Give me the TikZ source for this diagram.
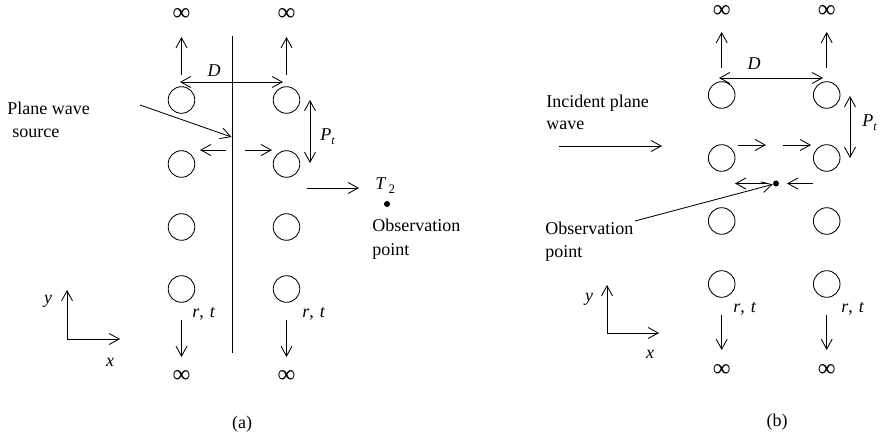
\documentclass[tikz,border=0pt]{standalone}
\usepackage{fontspec}
\setmainfont{Liberation Serif}
\usetikzlibrary{arrows.meta}
\begin{document}
\begin{tikzpicture}[x=1pt,y=-1pt,line width=0.85pt,
  font=\fontsize{18}{23}\selectfont,
  cyl/.style={circle,draw,minimum size=26.6pt,inner sep=0pt},
  arr/.style={-{Straight Barb[length=10pt,width=11pt]}},
  darr/.style={{Straight Barb[length=10pt,width=11pt]}-{Straight Barb[length=10pt,width=11pt]}},
  txt/.style={inner sep=0pt,anchor=base west},
  lbl/.style={inner sep=0pt,anchor=base},
  inf/.style={inner sep=0pt,font=\fontsize{25}{25}\selectfont},
  obsdot/.style={circle,fill,inner sep=0pt,minimum size=6pt}
]
\useasboundingbox (0,0) rectangle (880,438);

% ===================== (a) =====================
\foreach \r/\y in {1/100,2/164,3/227,4/289}{
  \node[cyl] (a\r1) at (181.5,\y) {};
  \node[cyl] (a\r2) at (286.5,\y) {};
}
\node[inf] (ainf1) at (181.5,15) {∞};
\node[inf] (ainf2) at (286.5,15) {∞};
\node[inf] (ainf3) at (181.5,376) {∞};
\node[inf] (ainf4) at (286.5,376) {∞};

% vertical line
\coordinate (avt) at (232,36);
\coordinate (avb) at (232,353);
\draw (avt) -- (avb);

% up arrows
\coordinate (au1s) at (181.5,75); \coordinate (au1e) at (181.5,37);
\coordinate (au2s) at (286.5,75); \coordinate (au2e) at (286.5,37);
\draw[arr] (au1s) -- (au1e);
\draw[arr] (au2s) -- (au2e);

% D
\coordinate (aDl) at (180,82); \coordinate (aDr) at (283,82);
\draw[darr] (aDl) -- (aDr);
\node[lbl] (aD) at (214,77) {\textit{D}};

% Plane wave source
\node[txt] (apw1) at (7,115) {Plane wave};
\node[txt] (apw2) at (12,138) {source};
\coordinate (apws) at (140,105); \coordinate (apwe) at (231.5,137);
\draw[arr] (apws) -- (apwe);

% small arrows
\coordinate (asl1) at (226,150); \coordinate (asl2) at (200,150);
\coordinate (asr1) at (245,150); \coordinate (asr2) at (272,150);
\draw[arr] (asl1) -- (asl2);
\draw[arr] (asr1) -- (asr2);

% P_t
\coordinate (aPt) at (310,100); \coordinate (aPb) at (310,163);
\draw[darr] (aPt) -- (aPb);
\node[txt] (aP) at (320,141) {\textit{P}\raisebox{-4pt}{\fontsize{12}{12}\selectfont\textit{t}}};

% T2
\coordinate (aTs) at (307,188); \coordinate (aTe) at (359,188);
\draw[arr] (aTs) -- (aTe);
\node[txt] (aT) at (375,190) {\textit{T}\hspace{2pt}\raisebox{-4pt}{\fontsize{13}{13}\selectfont 2}};
\node[obsdot] (adot) at (387,204) {};
\node[txt] (aob1) at (372,232) {Observation};
\node[txt] (aob2) at (372,255) {point};

% r, t
\node[txt] (art1) at (192,317) {\textit{r},\hspace{6pt}\textit{t}};
\node[txt] (art2) at (302,317) {\textit{r},\hspace{6pt}\textit{t}};

% down arrows
\coordinate (ad1s) at (181.5,320); \coordinate (ad1e) at (181.5,357);
\coordinate (ad2s) at (286.5,320); \coordinate (ad2e) at (286.5,357);
\draw[arr] (ad1s) -- (ad1e);
\draw[arr] (ad2s) -- (ad2e);

% axes
\coordinate (aax) at (67,339);
\coordinate (aay) at (67,290);
\coordinate (aaxx) at (120,339);
\draw[arr] (aax) -- (aay);
\draw[arr] (aax) -- (aaxx);
\node[lbl] (ay) at (48,303) {\textit{y}};
\node[lbl] (ax) at (110,366) {\textit{x}};

\node[lbl] (acap) at (242,428) {(a)};

% ===================== (b) =====================
\foreach \r/\y in {1/95,2/158,3/221,4/284}{
  \node[cyl] (b\r1) at (721.7,\y) {};
  \node[cyl] (b\r2) at (826.7,\y) {};
}
\node[inf] (binf1) at (721.7,12) {∞};
\node[inf] (binf2) at (826.7,12) {∞};
\node[inf] (binf3) at (721.7,370) {∞};
\node[inf] (binf4) at (826.7,370) {∞};

% up arrows
\coordinate (bu1s) at (721.7,68); \coordinate (bu1e) at (721.7,32);
\coordinate (bu2s) at (826.7,68); \coordinate (bu2e) at (826.7,32);
\draw[arr] (bu1s) -- (bu1e);
\draw[arr] (bu2s) -- (bu2e);

% D
\coordinate (bDl) at (719,78); \coordinate (bDr) at (823,78);
\draw[darr] (bDl) -- (bDr);
\node[lbl] (bD) at (754,70) {\textit{D}};

% P_t
\coordinate (bPt) at (850,96); \coordinate (bPb) at (850,158);
\draw[darr] (bPt) -- (bPb);
\node[txt] (bP) at (862,127) {\textit{P}\raisebox{-4pt}{\fontsize{12}{12}\selectfont\textit{t}}};

% incident plane wave
\node[txt] (bip1) at (546,108) {Incident plane};
\node[txt] (bip2) at (546,130) {wave};
\coordinate (bis) at (559,146); \coordinate (bie) at (662,146);
\draw[arr] (bis) -- (bie);

% small arrows row 2
\coordinate (bs1s) at (738,145); \coordinate (bs1e) at (766,145);
\coordinate (bs2s) at (783,145); \coordinate (bs2e) at (811,145);
\draw[arr] (bs1s) -- (bs1e);
\draw[arr] (bs2s) -- (bs2e);

% observation point
\node[obsdot] (bdot) at (776,183.5) {};
\coordinate (bls) at (767,183.5); \coordinate (ble) at (735,183.5);
\draw[arr] (bls) -- (ble);
\coordinate (brs) at (813,183.5); \coordinate (bre) at (787,183.5);
\draw[arr] (brs) -- (bre);
\coordinate (bos) at (635,221);
\draw[arr] (bos) -- (bdot);
\node[txt] (bob1) at (545,235) {Observation};
\node[txt] (bob2) at (545,258) {point};

% r, t
\node[txt] (brt1) at (733,312) {\textit{r},\hspace{6pt}\textit{t}};
\node[txt] (brt2) at (841,312) {\textit{r},\hspace{6pt}\textit{t}};

% down arrows
\coordinate (bd1s) at (721.7,315); \coordinate (bd1e) at (721.7,350);
\coordinate (bd2s) at (826.7,315); \coordinate (bd2e) at (826.7,350);
\draw[arr] (bd1s) -- (bd1e);
\draw[arr] (bd2s) -- (bd2e);

% axes
\coordinate (bax) at (607,333);
\coordinate (bay) at (607,285);
\coordinate (baxx) at (659,333);
\draw[arr] (bax) -- (bay);
\draw[arr] (bax) -- (baxx);
\node[lbl] (by) at (589,301) {\textit{y}};
\node[lbl] (bx) at (650,358) {\textit{x}};

\node[lbl] (bcap) at (777,426) {(b)};
\end{tikzpicture}
\end{document}
